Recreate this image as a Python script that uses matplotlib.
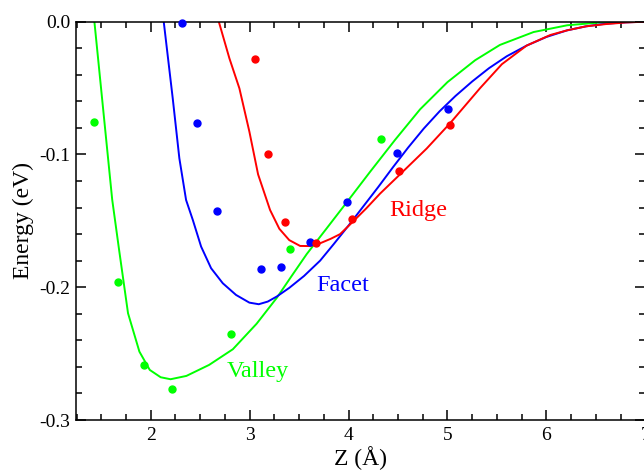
import matplotlib
matplotlib.use("Agg")
import matplotlib.pyplot as plt
from matplotlib.ticker import MultipleLocator, FuncFormatter

# fitted curves
valley_x = [1.43, 1.52, 1.61, 1.68, 1.77, 1.885, 1.99, 2.10, 2.20, 2.36, 2.59, 2.83,
            3.07, 3.274, 3.42, 3.577, 3.78, 3.982, 4.218, 4.47, 4.723, 5.00, 5.28,
            5.53, 5.87, 6.21, 6.54, 6.80, 7.0]
valley_y = [0.0, -0.067, -0.134, -0.172, -0.2196, -0.2485, -0.2623, -0.2678, -0.2693,
            -0.2668, -0.2585, -0.2467, -0.2275, -0.208, -0.192, -0.175, -0.1555, -0.136,
            -0.113, -0.089, -0.066, -0.0455, -0.029, -0.0175, -0.0078, -0.0027, -0.0006,
            -0.0001, 0.0]

facet_x = [2.131, 2.222, 2.289, 2.357, 2.425, 2.509, 2.61, 2.728, 2.862, 2.997, 3.092,
           3.183, 3.274, 3.40, 3.55, 3.712, 3.85, 4.00, 4.15, 4.30, 4.45, 4.60, 4.76,
           4.92, 5.08, 5.25, 5.42, 5.60, 5.80, 6.00, 6.21, 6.40, 6.60, 6.80, 7.0]
facet_y = [0.0, -0.0577, -0.1029, -0.1343, -0.1493, -0.1694, -0.1857, -0.197, -0.2058,
           -0.2116, -0.2128, -0.2108, -0.207, -0.2005, -0.1915, -0.180, -0.1675, -0.1535,
           -0.139, -0.1245, -0.1095, -0.095, -0.0805, -0.0675, -0.056, -0.045, -0.035,
           -0.026, -0.018, -0.0115, -0.0065, -0.0035, -0.0015, -0.0005, 0.0]

ridge_x = [2.688, 2.795, 2.896, 2.997, 3.085, 3.206, 3.30, 3.40, 3.51, 3.61, 3.712,
           3.82, 3.914, 4.032, 4.18, 4.318, 4.52, 4.79, 5.026, 5.33, 5.55, 5.80, 6.04,
           6.21, 6.40, 6.60, 6.80, 7.0]
ridge_y = [0.0, -0.0276, -0.0502, -0.0828, -0.115, -0.1418, -0.156, -0.1645, -0.1689,
           -0.169, -0.1669, -0.1635, -0.160, -0.1515, -0.1405, -0.1295, -0.115, -0.0955,
           -0.0765, -0.050, -0.032, -0.018, -0.010, -0.0065, -0.0035, -0.0018, -0.0006, 0.0]

# computed points
valley_pts_x = [1.43, 1.67, 1.935, 2.212, 2.809, 3.408, 4.326]
valley_pts_y = [-0.0753, -0.1958, -0.2587, -0.2764, -0.235, -0.171, -0.0886]
facet_pts_x = [2.316, 2.465, 2.674, 3.118, 3.314, 3.611, 3.985, 4.487, 5.003]
facet_pts_y = [-0.0008, -0.0763, -0.1423, -0.1865, -0.1845, -0.1659, -0.136, -0.0989, -0.0657]
ridge_pts_x = [3.055, 3.183, 3.361, 3.671, 4.032, 4.511, 5.026]
ridge_pts_y = [-0.0279, -0.0999, -0.1506, -0.1664, -0.1486, -0.1124, -0.0776]

GREEN = "#00ff00"
BLUE = "#0000ff"
RED = "#ff0000"

plt.rcParams["font.family"] = ["Liberation Serif", "DejaVu Serif"]
plt.rcParams["axes.unicode_minus"] = False

fig = plt.figure(figsize=(6.44, 4.71), dpi=100)
ax = fig.add_axes([76 / 644, 51 / 471, 569.3 / 644, 398.3 / 471])

ax.plot(valley_x, valley_y, color=GREEN, lw=1.4)
ax.plot(facet_x, facet_y, color=BLUE, lw=1.4)
ax.plot(ridge_x, ridge_y, color=RED, lw=1.4)

ax.plot(valley_pts_x, valley_pts_y, "o", color=GREEN, ms=5, clip_on=False, zorder=5)
ax.plot(facet_pts_x, facet_pts_y, "o", color=BLUE, ms=5, clip_on=False, zorder=5)
ax.plot(ridge_pts_x, ridge_pts_y, "o", color=RED, ms=5, clip_on=False, zorder=5)

ax.text(2.77, -0.2675, "Valley", color=GREEN, fontsize=17.5, va="baseline")
ax.text(3.675, -0.2026, "Facet", color=BLUE, fontsize=17.5, va="baseline")
ax.text(4.415, -0.1463, "Ridge", color=RED, fontsize=17.5, va="baseline")

ax.set_xlim(1.244, 7.0)
ax.set_ylim(-0.3, 0.0)
ax.xaxis.set_major_locator(MultipleLocator(1))
ax.xaxis.set_minor_locator(MultipleLocator(0.25))
ax.yaxis.set_major_locator(MultipleLocator(0.1))
ax.yaxis.set_minor_locator(MultipleLocator(0.02))
ax.xaxis.set_major_formatter(FuncFormatter(lambda v, p: "%d" % round(v)))
ax.yaxis.set_major_formatter(FuncFormatter(lambda v, p: "%.1f" % (0.0 if abs(v) < 1e-9 else v)))

ax.tick_params(which="both", direction="in", top=True, right=True, width=1.1,
               labelsize=14)
ax.tick_params(which="major", length=7.5)
ax.tick_params(which="minor", length=4)
ax.tick_params(axis="x", pad=5)
ax.tick_params(axis="y", pad=4)
for s in ax.spines.values():
    s.set_linewidth(1.1)

ax.set_xlabel("Z (Å)", fontsize=17)
ax.set_ylabel("Energy (eV)", fontsize=17)
ax.xaxis.set_label_coords(0.5, -0.065)
ax.yaxis.set_label_coords(-0.093, 0.5)
ax.yaxis.label.set_va("center")

fig.savefig("out.png", dpi=100)
